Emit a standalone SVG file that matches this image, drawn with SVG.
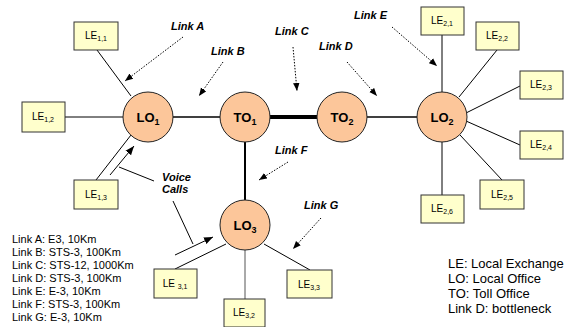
<svg xmlns="http://www.w3.org/2000/svg" width="569" height="327" viewBox="0 0 569 327">
<defs>
<marker id="ah" viewBox="0 0 10 10" refX="10" refY="5" markerWidth="8" markerHeight="8" markerUnits="userSpaceOnUse" orient="auto"><path d="M0,1 L10,5 L0,9 z" fill="#000"/></marker>
<marker id="ah2" viewBox="0 0 10 10" refX="10" refY="5" markerWidth="9" markerHeight="9" markerUnits="userSpaceOnUse" orient="auto"><path d="M0,1 L10,5 L0,9 z" fill="#000"/></marker>
</defs>
<style>
.le rect{fill:#FFFFCC;stroke:#333;stroke-width:1}
.le text{font-family:"Liberation Sans",Arial,sans-serif;font-size:10px;fill:#000;text-anchor:middle}
.sub{font-size:7px}
.node circle{fill:#FCC69A;stroke:#222;stroke-width:1}
.node text{font-family:"Liberation Sans",Arial,sans-serif;font-size:13px;font-weight:bold;fill:#000;text-anchor:middle}
.nsub{font-size:9px}
.lbl{font-family:"Liberation Sans",Arial,sans-serif;font-size:11px;font-weight:bold;font-style:italic;fill:#000}
.leg{font-family:"Liberation Sans",Arial,sans-serif;font-size:11px;fill:#000}
.leg2{font-family:"Liberation Sans",Arial,sans-serif;font-size:13px;fill:#000}
.ln{stroke:#000;stroke-width:1;fill:none}
.dot{stroke:#000;stroke-width:1;stroke-dasharray:1.5 1.5;fill:none;marker-end:url(#ah)}
</style>
<rect width="569" height="327" fill="#fff"/>
<g id="connectors">
<line class="ln" x1="97" y1="50" x2="131" y2="96"/>
<line class="ln" x1="65" y1="117" x2="123" y2="117"/>
<line class="ln" x1="96" y1="180" x2="131" y2="135"/>
<line class="ln" x1="173" y1="117" x2="220" y2="117" style="stroke-width:1.5"/>
<line class="ln" x1="270" y1="117" x2="317" y2="117" style="stroke-width:4"/>
<line class="ln" x1="367" y1="117" x2="417" y2="117" style="stroke-width:1.5"/>
<line class="ln" x1="245" y1="142" x2="245" y2="200" style="stroke-width:2"/>
<line class="ln" x1="226" y1="244" x2="175" y2="269"/>
<line class="ln" x1="245" y1="250" x2="245" y2="299" style="stroke:#555"/>
<line class="ln" x1="264" y1="244" x2="310" y2="270"/>
<line class="ln" x1="442" y1="35" x2="442" y2="92"/>
<line class="ln" x1="497" y1="50" x2="459" y2="97"/>
<line class="ln" x1="520" y1="86" x2="466" y2="113"/>
<line class="ln" x1="466" y1="121" x2="520" y2="145"/>
<line class="ln" x1="460" y1="135" x2="502" y2="180"/>
<line class="ln" x1="442" y1="142" x2="442" y2="195"/>
<line class="ln" x1="110" y1="175" x2="134" y2="146" marker-end="url(#ah2)"/>
<line class="ln" x1="175" y1="255" x2="213" y2="237" marker-end="url(#ah2)"/>
<line class="ln" x1="119" y1="167" x2="154" y2="181"/>
<line class="ln" x1="173" y1="201" x2="193" y2="244"/>
<line class="dot" x1="183" y1="37" x2="125" y2="81"/>
<line class="dot" x1="223" y1="62" x2="199" y2="96"/>
<line class="dot" x1="293" y1="47" x2="297" y2="91"/>
<line class="dot" x1="347" y1="62" x2="377" y2="96"/>
<line class="dot" x1="392" y1="27" x2="437" y2="66"/>
<line class="dot" x1="288" y1="162" x2="259" y2="180"/>
<line class="dot" x1="321" y1="218" x2="293" y2="249"/>
</g>
<g id="LO1" class="node"><circle cx="148" cy="117" r="25"/><text x="148" y="122">LO<tspan class="nsub" dy="3">1</tspan></text></g>
<g id="TO1" class="node"><circle cx="245" cy="117" r="25"/><text x="245" y="122">TO<tspan class="nsub" dy="3">1</tspan></text></g>
<g id="TO2" class="node"><circle cx="342" cy="117" r="25"/><text x="342" y="122">TO<tspan class="nsub" dy="3">2</tspan></text></g>
<g id="LO2" class="node"><circle cx="442" cy="117" r="25"/><text x="442" y="122">LO<tspan class="nsub" dy="3">2</tspan></text></g>
<g id="LO3" class="node"><circle cx="245" cy="225" r="25"/><text x="245" y="230">LO<tspan class="nsub" dy="3">3</tspan></text></g>
<g id="LE11" class="le"><rect x="74" y="22" width="44" height="28"/><text x="96" y="39">LE<tspan class="sub" dy="2">1,1</tspan></text></g>
<g id="LE12" class="le"><rect x="22" y="102" width="43" height="30"/><text x="43" y="120">LE<tspan class="sub" dy="2">1,2</tspan></text></g>
<g id="LE13" class="le"><rect x="74" y="180" width="44" height="29"/><text x="96" y="198">LE<tspan class="sub" dy="2">1,3</tspan></text></g>
<g id="LE21" class="le"><rect x="421" y="7" width="43" height="28"/><text x="442" y="24">LE<tspan class="sub" dy="2">2,1</tspan></text></g>
<g id="LE22" class="le"><rect x="476" y="22" width="43" height="28"/><text x="497" y="39">LE<tspan class="sub" dy="2">2,2</tspan></text></g>
<g id="LE23" class="le"><rect x="520" y="71" width="43" height="28"/><text x="541" y="88">LE<tspan class="sub" dy="2">2,3</tspan></text></g>
<g id="LE24" class="le"><rect x="520" y="131" width="43" height="28"/><text x="541" y="148">LE<tspan class="sub" dy="2">2,4</tspan></text></g>
<g id="LE25" class="le"><rect x="480" y="180" width="44" height="29"/><text x="502" y="198">LE<tspan class="sub" dy="2">2,5</tspan></text></g>
<g id="LE26" class="le"><rect x="421" y="195" width="43" height="28"/><text x="442" y="212">LE<tspan class="sub" dy="2">2,6</tspan></text></g>
<g id="LE31" class="le"><rect x="154" y="269" width="43" height="29"/><text x="175" y="287">LE <tspan class="sub" dy="2">3,1</tspan></text></g>
<g id="LE32" class="le"><rect x="224" y="299" width="41" height="28"/><text x="244" y="316">LE<tspan class="sub" dy="2">3,2</tspan></text></g>
<g id="LE33" class="le"><rect x="287" y="270" width="45" height="28"/><text x="309" y="288">LE<tspan class="sub" dy="2">3,3</tspan></text></g>
<g id="labels">
<text class="lbl" x="171" y="30">Link A</text>
<text class="lbl" x="211" y="55">Link B</text>
<text class="lbl" x="275" y="35">Link C</text>
<text class="lbl" x="319" y="50">Link D</text>
<text class="lbl" x="354" y="19">Link E</text>
<text class="lbl" x="275" y="154">Link F</text>
<text class="lbl" x="304" y="209">Link G</text>
<text class="lbl" x="162" y="181">Voice</text>
<text class="lbl" x="162" y="193">Calls</text>
</g>
<g id="legend-left">
<text class="leg" x="12" y="243">Link A: E3, 10Km</text>
<text class="leg" x="12" y="256">Link B: STS-3, 100Km</text>
<text class="leg" x="12" y="269">Link C: STS-12, 1000Km</text>
<text class="leg" x="12" y="282">Link D: STS-3, 100Km</text>
<text class="leg" x="12" y="295">Link E: E-3, 10Km</text>
<text class="leg" x="12" y="308">Link F: STS-3, 100Km</text>
<text class="leg" x="12" y="321">Link G: E-3, 10Km</text>
</g>
<g id="legend-right">
<text class="leg2" x="448" y="268">LE: Local Exchange</text>
<text class="leg2" x="448" y="283">LO: Local Office</text>
<text class="leg2" x="448" y="298">TO: Toll Office</text>
<text class="leg2" x="448" y="313">Link D: bottleneck</text>
</g>
</svg>
